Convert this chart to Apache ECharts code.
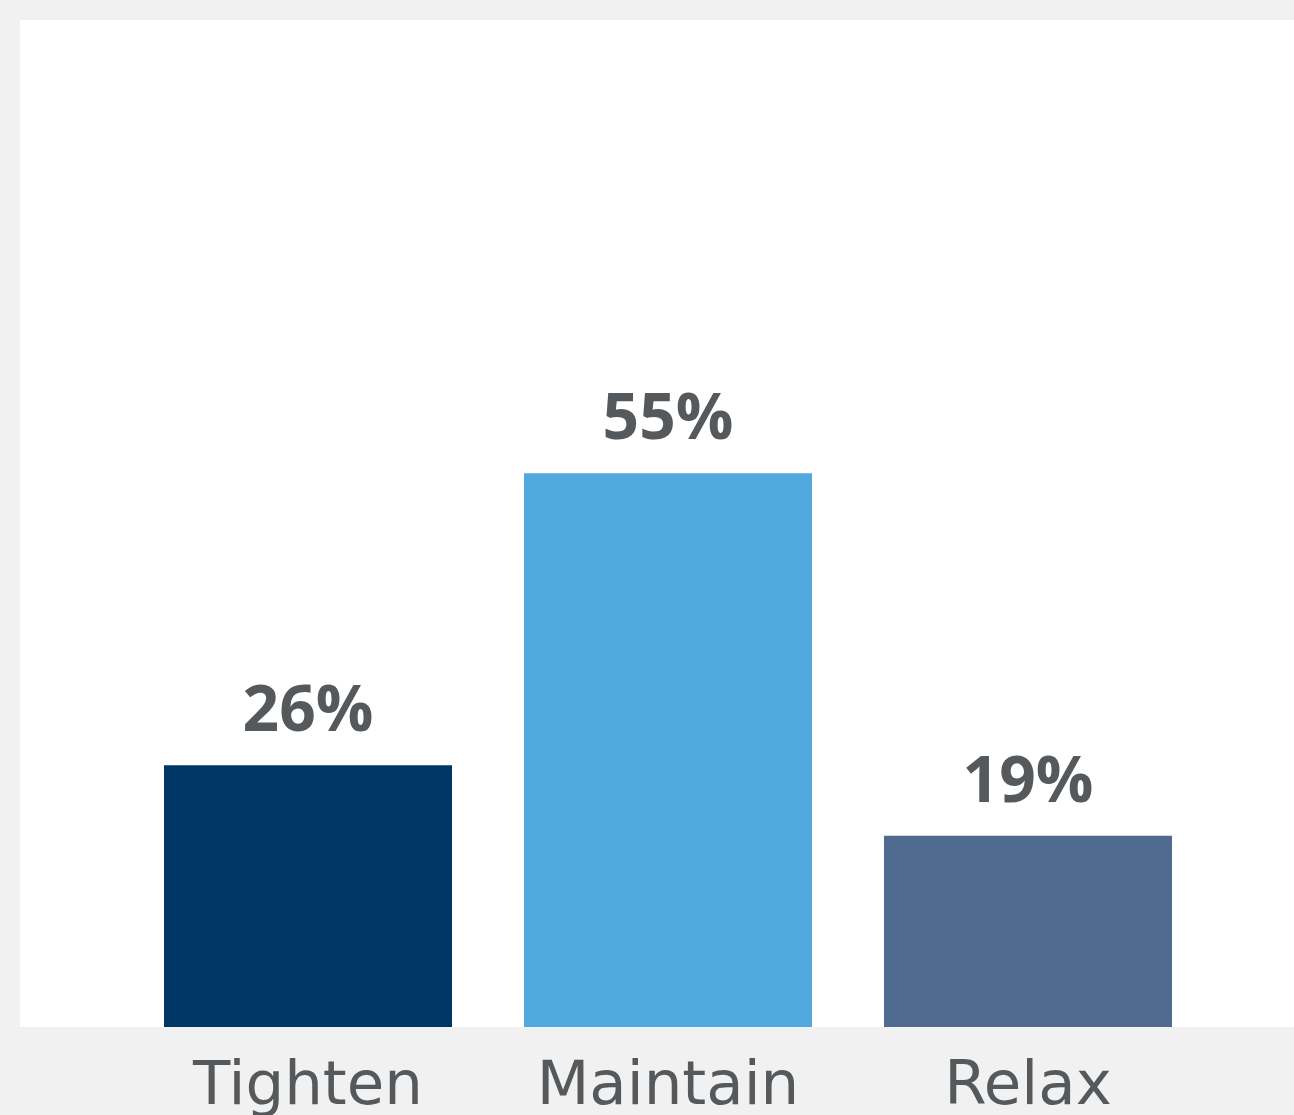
<!DOCTYPE html>
<html>
<head>
<meta charset="utf-8">
<script src="https://cdn.jsdelivr.net/npm/echarts@6/dist/echarts.min.js"></script>
<style>
  html, body { margin: 0; padding: 0; background: #f1f1f1; }
  #app { width: 1294px; height: 1115px; }
</style>
</head>
<body>
<div id="app"></div>
<script>
const categories = ['Tighten', 'Maintain', 'Relax']
const values = [26, 55, 19]
const barColors = ['#003764', '#51a9dd', '#4f6a8f']

const chart = echarts.init(document.getElementById('app'))

chart.setOption({
  backgroundColor: '#f1f1f1',
  animation: false,
  graphic: [
    {
      type: 'rect',
      left: 20,
      top: 20,
      z: -10,
      shape: { width: 1274, height: 1007 },
      style: { fill: '#ffffff' }
    }
  ],
  grid: {
    left: 128,
    right: 86,
    top: 20,
    bottom: 88,
    outerBoundsMode: 'none',
    containLabel: false
  },
  xAxis: {
    type: 'category',
    data: categories,
    axisLine: { show: false },
    axisTick: { show: false },
    axisLabel: {
      color: '#55595c',
      fontFamily: 'DejaVu Sans',
      fontSize: 61,
      margin: 31,
      verticalAlign: 'top'
    }
  },
  yAxis: {
    type: 'value',
    min: 0,
    max: 100,
    show: false,
    splitLine: { show: false }
  },
  series: [
    {
      type: 'bar',
      barWidth: 288,
      data: values.map((v, i) => ({
        value: v,
        itemStyle: { color: barColors[i] }
      })),
      label: {
        show: true,
        position: 'top',
        distance: 20,
        formatter: '{c}%',
        color: '#55595c',
        fontFamily: 'Open Sans',
        fontWeight: 'bold',
        fontSize: 64
      }
    }
  ]
})
</script>
</body>
</html>
